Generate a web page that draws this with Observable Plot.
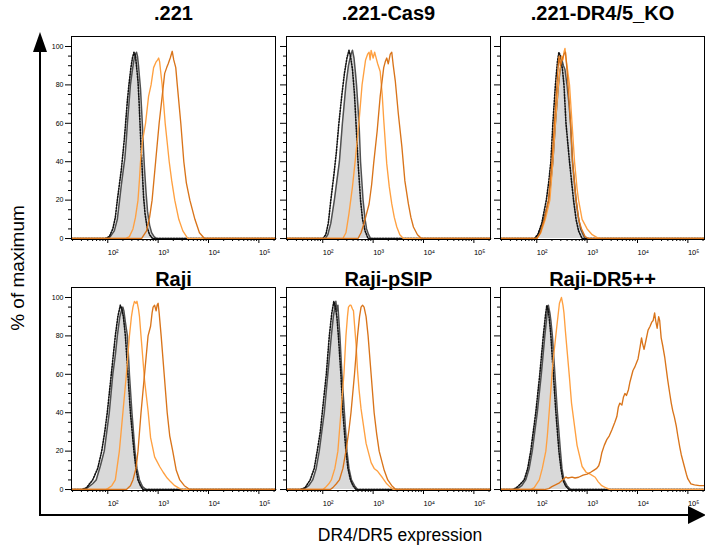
<!DOCTYPE html>
<html><head><meta charset="utf-8">
<script src="https://cdn.jsdelivr.net/npm/d3@7"></script>
<script src="https://cdn.jsdelivr.net/npm/@observablehq/plot@0.6"></script>
<style>
body{margin:0;background:#fff;}
#chart{position:relative;width:705px;height:545px;overflow:hidden;font-family:"Liberation Sans",Arial,sans-serif;}
#chart svg{position:absolute;}
</style></head><body><div id="chart"></div>
<script>
// ---- data: [log10(intensity), % of maximum] ----
const panelTitles = [".221", ".221-Cas9", ".221-DR4/5_KO", "Raji", "Raji-pSIP", "Raji-DR5++"];
const majorX = [1e2, 1e3, 1e4, 1e5];
const xTickLabels = ["10²", "10³", "10⁴", "10⁵"];
const majorY = [0, 20, 40, 60, 80, 100];
const minorY = [5, 10, 15, 25, 30, 35, 45, 50, 55, 65, 70, 75, 85, 90, 95];

const gray_221 = [[1.28,0],[2.0,0],[2.05,1],[2.13,4],[2.19,10],[2.235,20],[2.27,28],[2.31,36],[2.34,42],[2.37,52],[2.39,60],[2.42,70],[2.45,80],[2.49,88],[2.52,93],[2.55,96],[2.57,97],[2.59,95],[2.61,90],[2.63,84],[2.65,78],[2.67,68],[2.69,58],[2.71,46],[2.73,36],[2.76,24],[2.79,14],[2.83,7],[2.87,3],[2.92,1],[2.97,0],[5.33,0]];
const dotted_221 = [[1.28,0],[1.95,0],[2.03,1],[2.10,5],[2.15,11],[2.19,20],[2.23,28],[2.27,36],[2.30,44],[2.33,52],[2.36,62],[2.39,72],[2.42,80],[2.46,89],[2.49,94],[2.52,97],[2.55,95],[2.57,90],[2.60,82],[2.62,72],[2.64,60],[2.66,48],[2.68,38],[2.71,22],[2.74,13],[2.78,6],[2.83,2],[2.89,0],[5.33,0]];
const light_221 = [[1.28,0],[2.35,0],[2.43,1],[2.50,5],[2.55,11],[2.60,20],[2.63,31],[2.65,40],[2.69,51],[2.75,60],[2.81,74],[2.86,80],[2.91,89],[2.96,92],[2.99,93],[3.01,94],[3.03,92],[3.05,87],[3.08,80],[3.11,70],[3.14,60],[3.18,50],[3.22,40],[3.27,30],[3.33,20],[3.41,10],[3.49,4],[3.59,0],[5.33,0]];
const dark_221 = [[1.28,0],[2.67,0],[2.77,4],[2.83,11],[2.88,20],[2.95,40],[3.02,60],[3.08,74],[3.13,86],[3.17,89],[3.20,91],[3.24,94],[3.28,97.5],[3.31,93],[3.35,89],[3.38,80],[3.45,60],[3.51,40],[3.56,29],[3.63,20],[3.73,10],[3.82,3],[3.92,0],[5.33,0]];

const gray_cas9 = [[1.28,0],[2.05,0],[2.10,2],[2.16,8],[2.23,20],[2.28,30],[2.33,40],[2.39,60],[2.46,80],[2.51,90],[2.55,95],[2.59,98],[2.62,94],[2.65,86],[2.67,80],[2.72,60],[2.75,40],[2.80,20],[2.84,10],[2.87,5],[2.91,2],[2.95,0],[5.33,0]];
const dotted_cas9 = [[1.28,0],[2.0,0],[2.06,2],[2.11,8],[2.16,20],[2.22,33],[2.27,45],[2.32,60],[2.38,75],[2.43,86],[2.48,94],[2.52,98],[2.55,95],[2.59,88],[2.63,75],[2.66,60],[2.70,40],[2.75,20],[2.79,10],[2.84,4],[2.90,0],[5.33,0]];
const light_cas9 = [[1.28,0],[2.40,0],[2.46,3],[2.52,13],[2.59,27],[2.65,42],[2.72,61],[2.78,80],[2.85,93],[2.89,96],[2.92,97],[2.94,93],[2.96,98],[3.00,94],[3.03,97],[3.05,95],[3.09,91],[3.14,87],[3.18,75],[3.21,62],[3.27,39],[3.32,27],[3.37,18],[3.42,11],[3.47,6],[3.53,2],[3.60,0],[5.33,0]];
const dark_cas9 = [[1.28,0],[2.70,0],[2.76,3],[2.82,8],[2.92,18],[2.97,28],[3.01,39],[3.08,56],[3.14,74],[3.21,89],[3.24,92],[3.27,94],[3.30,91],[3.34,96],[3.37,97],[3.40,90],[3.44,82],[3.50,65],[3.57,48],[3.63,30],[3.70,18],[3.75,11],[3.80,6],[3.88,2],[3.96,0],[5.33,0]];

const gray_ko = [[1.28,0],[1.98,0],[2.01,1],[2.08,5],[2.15,11],[2.24,20],[2.28,30],[2.32,40],[2.37,60],[2.43,80],[2.46,87],[2.50,93],[2.53,90],[2.56,88],[2.60,80],[2.64,70],[2.67,60],[2.71,40],[2.78,20],[2.82,12],[2.87,5],[2.92,2],[2.96,0],[5.33,0]];
const dotted_ko = [[1.28,0],[1.95,0],[2.02,2],[2.10,8],[2.19,20],[2.24,30],[2.28,40],[2.32,60],[2.37,80],[2.41,92],[2.44,97],[2.47,95],[2.51,88],[2.54,80],[2.58,60],[2.65,40],[2.73,20],[2.78,10],[2.83,4],[2.90,0],[5.33,0]];
const light_ko = [[1.28,0],[2.0,0],[2.08,3],[2.17,10],[2.26,20],[2.32,40],[2.37,60],[2.43,80],[2.47,90],[2.49,95],[2.52,93],[2.54,97],[2.56,99],[2.58,94],[2.60,90],[2.65,80],[2.70,60],[2.75,40],[2.80,26],[2.83,20],[2.90,10],[3.00,5],[3.10,2],[3.20,0.5],[3.29,0],[5.33,0]];
const dark_ko = [[1.28,0],[2.0,0],[2.07,3],[2.15,10],[2.23,20],[2.30,40],[2.35,60],[2.40,80],[2.44,95],[2.47,90],[2.50,93],[2.54,96],[2.57,97],[2.60,88],[2.62,80],[2.67,60],[2.71,40],[2.78,20],[2.84,9],[2.89,5],[2.96,1],[3.03,0],[5.33,0]];

const gray_raji = [[1.28,0],[1.55,0],[1.60,1],[1.70,3],[1.77,5],[1.85,12],[1.93,20],[1.98,30],[2.03,40],[2.10,60],[2.15,70],[2.19,80],[2.24,90],[2.28,94],[2.30,95],[2.32,93],[2.35,87],[2.39,80],[2.43,60],[2.48,40],[2.54,20],[2.58,11],[2.63,5],[2.69,1.5],[2.76,0],[5.33,0]];
const dotted_raji = [[1.28,0],[1.48,0],[1.58,1],[1.70,5],[1.80,11],[1.88,20],[1.94,30],[1.99,40],[2.07,60],[2.15,80],[2.20,90],[2.25,96],[2.28,94],[2.31,90],[2.35,80],[2.40,60],[2.45,40],[2.52,20],[2.56,11],[2.60,5],[2.65,2],[2.70,0],[5.33,0]];
const light_raji = [[1.28,0],[1.95,0],[2.0,0.5],[2.08,2],[2.15,5],[2.23,20],[2.30,40],[2.37,60],[2.43,80],[2.47,90],[2.50,95],[2.53,98],[2.56,97],[2.58,98],[2.61,94],[2.63,90],[2.66,80],[2.70,67],[2.73,57],[2.80,41],[2.85,27],[2.93,17],[3.03,12],[3.10,9],[3.18,6],[3.25,4],[3.33,2],[3.43,0.5],[3.50,0],[5.33,0]];
const dark_raji = [[1.28,0],[2.37,0],[2.45,2],[2.50,5],[2.56,11],[2.60,20],[2.66,40],[2.73,60],[2.80,80],[2.85,85],[2.88,92],[2.90,95],[2.93,96],[2.96,93],[2.98,96],[3.0,97],[3.02,92],[3.06,80],[3.12,60],[3.18,40],[3.23,28],[3.29,20],[3.36,10],[3.43,5],[3.52,2],[3.63,0],[5.33,0]];

const gray_psip = [[1.28,0],[1.60,0],[1.64,0.5],[1.72,2],[1.80,5],[1.87,11],[1.93,20],[1.98,30],[2.03,40],[2.10,60],[2.17,80],[2.21,90],[2.24,95],[2.26,98],[2.28,93],[2.30,96],[2.32,88],[2.34,80],[2.38,60],[2.43,40],[2.48,20],[2.52,11],[2.57,5],[2.63,2],[2.69,0],[5.33,0]];
const dotted_psip = [[1.28,0],[1.55,0],[1.65,1],[1.75,5],[1.83,11],[1.89,20],[1.95,30],[1.99,40],[2.07,60],[2.13,80],[2.18,92],[2.22,98],[2.25,95],[2.28,90],[2.31,80],[2.36,60],[2.40,40],[2.46,20],[2.50,11],[2.55,5],[2.60,2],[2.66,0],[5.33,0]];
const light_psip = [[1.28,0],[2.0,0],[2.05,1],[2.12,3],[2.17,5],[2.24,11],[2.30,20],[2.36,40],[2.42,60],[2.46,80],[2.49,90],[2.51,95],[2.54,96],[2.56,96],[2.59,94],[2.61,93],[2.63,86],[2.66,76],[2.69,62],[2.72,52],[2.76,42],[2.81,33],[2.86,24],[2.96,14],[3.02,11],[3.09,9.5],[3.19,6],[3.27,3],[3.35,1],[3.40,0],[5.33,0]];
const dark_psip = [[1.28,0],[2.15,0],[2.20,1],[2.27,3],[2.33,5],[2.40,11],[2.46,20],[2.52,31],[2.56,40],[2.63,60],[2.69,80],[2.73,90],[2.76,95],[2.79,96],[2.82,95],[2.86,90],[2.90,80],[2.96,60],[3.02,40],[3.07,29],[3.12,20],[3.22,10],[3.29,5],[3.37,2],[3.45,0],[5.33,0]];

const gray_dr5 = [[1.28,0],[1.55,0],[1.62,0.5],[1.70,2],[1.78,5],[1.85,11],[1.91,20],[1.96,30],[2.01,40],[2.09,60],[2.16,80],[2.20,90],[2.23,96],[2.26,92],[2.28,88],[2.31,80],[2.36,60],[2.41,40],[2.47,20],[2.50,11],[2.54,5],[2.60,2],[2.67,0],[5.33,0]];
const dotted_dr5 = [[1.28,0],[1.52,0],[1.60,1],[1.68,3],[1.75,5],[1.82,11],[1.88,20],[1.93,30],[1.98,40],[2.06,60],[2.13,80],[2.17,90],[2.20,96],[2.23,93],[2.26,86],[2.28,80],[2.33,60],[2.38,40],[2.44,20],[2.48,11],[2.52,5],[2.57,2],[2.64,0],[5.33,0]];
const light_dr5 = [[1.28,0],[1.88,0],[1.95,1],[2.05,5],[2.11,11],[2.18,20],[2.21,28],[2.26,45],[2.32,66],[2.39,83],[2.45,97],[2.49,100],[2.52,96],[2.54,92],[2.57,82],[2.60,73],[2.65,58],[2.69,45],[2.75,33],[2.80,23],[2.90,12],[2.98,9],[3.06,8],[3.16,6.4],[3.22,4],[3.29,2],[3.38,0.8],[3.46,0],[5.33,0]];
const dark_dr5 = [[1.28,0],[2.15,0],[2.24,0.5],[2.30,1.5],[2.37,2.4],[2.45,3.5],[2.50,4.7],[2.58,6.5],[2.62,6],[2.70,6.5],[2.76,6],[2.83,6.4],[2.92,7.5],[3.0,8],[3.07,9],[3.13,10],[3.19,11],[3.23,12.4],[3.26,15],[3.29,19],[3.34,23],[3.39,26],[3.44,28],[3.49,31],[3.55,35],[3.59,38],[3.62,43],[3.65,45],[3.69,44],[3.72,48],[3.75,50],[3.78,49],[3.82,52],[3.85,56],[3.88,59],[3.91,62],[3.95,64],[3.98,66],[4.01,68],[4.05,74],[4.08,79],[4.10,76],[4.13,73],[4.17,78],[4.21,83],[4.25,85],[4.28,87],[4.31,88],[4.34,92],[4.36,88],[4.39,84],[4.42,90],[4.44,88],[4.47,79],[4.50,75],[4.54,69],[4.57,63],[4.60,57],[4.64,50],[4.67,45],[4.70,41],[4.73,38],[4.77,33],[4.80,28],[4.84,22],[4.87,18],[4.90,15],[4.93,12],[4.97,8],[5.0,5.5],[5.06,3],[5.13,2.4],[5.23,2],[5.33,2]];

const series = [
  {gray: gray_221, dotted: dotted_221, light: light_221, dark: dark_221},
  {gray: gray_cas9, dotted: dotted_cas9, light: light_cas9, dark: dark_cas9},
  {gray: gray_ko, dotted: dotted_ko, light: light_ko, dark: dark_ko},
  {gray: gray_raji, dotted: dotted_raji, light: light_raji, dark: dark_raji},
  {gray: gray_psip, dotted: dotted_psip, light: light_psip, dark: dark_psip},
  {gray: gray_dr5, dotted: dotted_dr5, light: light_dr5, dark: dark_dr5}
];

// ---- layout ----
const W = 204, H = 203;
const colLeft = [71, 286, 500];
const rowTop = [36, 287];
const titleDy = [-23, -8];
const mL = 40, mR = 2, mT = 32, mB = 24;
const xDomain = [10 ** 1.28, 10 ** 5.33];
const yDomain = [-0.5, 105.2];
const minorX = d3.scaleLog().domain(xDomain).ticks().filter(t => !majorX.includes(t));
const FONT = '"Liberation Sans", Arial, sans-serif';
const LIGHT = "#ffa040", DARK = "#d9741a";

const chart = document.getElementById("chart");

// big axes overlay
const ns = "http://www.w3.org/2000/svg";
const ov = document.createElementNS(ns, "svg");
ov.setAttribute("width", 705); ov.setAttribute("height", 545);
ov.style.left = "0px"; ov.style.top = "0px";
ov.innerHTML = `
<line x1="40" y1="515" x2="40" y2="48" stroke="#000" stroke-width="2"/>
<polygon points="33,52 47,52 40,32" fill="#000"/>
<line x1="39" y1="515" x2="692" y2="515" stroke="#000" stroke-width="2"/>
<polygon points="688,506 688,524 706,515" fill="#000"/>
<text x="19" y="268" transform="rotate(-90 19 268)" text-anchor="middle" dominant-baseline="middle" font-size="19" font-family='${FONT}' fill="#000">% of maximum</text>
<text x="400" y="536" text-anchor="middle" dominant-baseline="middle" font-size="17.5" font-family='${FONT}' fill="#000">DR4/DR5 expression</text>`;
chart.appendChild(ov);

const X = d => 10 ** d[0], Y = d => d[1];
panelTitles.forEach((title, i) => {
  const col = i % 3, row = Math.floor(i / 3);
  const s = series[i];
  const p = Plot.plot({
    width: W + mL + mR, height: H + mT + mB,
    marginLeft: mL, marginRight: mR, marginTop: mT, marginBottom: mB,
    style: {background: "transparent", overflow: "visible", fontFamily: FONT, color: "#000"},
    x: {type: "log", domain: xDomain, axis: null},
    y: {domain: yDomain, axis: null},
    marks: [
      Plot.areaY(s.gray, {x: X, y1: 0, y2: Y, fill: "#d9d9d9"}),
      Plot.lineY(s.gray, {x: X, y: Y, stroke: "#505050", strokeWidth: 1.5}),
      Plot.lineY(s.dotted, {x: X, y: Y, stroke: "#111", strokeWidth: 1.6, strokeDasharray: "1.3,1.5"}),
      Plot.lineY(s.light, {x: X, y: Y, stroke: LIGHT, strokeWidth: 1.35}),
      Plot.lineY(s.dark, {x: X, y: Y, stroke: DARK, strokeWidth: 1.35}),
      Plot.frame({stroke: "#000", strokeWidth: 1}),
      Plot.axisX({ticks: minorX, tickSize: 2, fill: "none", label: null}),
      Plot.axisX({ticks: majorX, tickSize: 4, tickPadding: 6, tickFormat: d => xTickLabels[majorX.indexOf(d)], textAnchor: "start", fontSize: 7.5, label: null}),
      Plot.axisY({ticks: minorY, tickSize: 3, fill: "none", label: null}),
      Plot.axisY({ticks: majorY, tickSize: 6, tickPadding: 2, fontSize: 7, label: null, fill: col === 0 ? "#000" : "none"}),
      Plot.text([title], {frameAnchor: "top", dy: titleDy[row], text: d => d, fontSize: 20, fontWeight: "bold", lineAnchor: "middle", fill: "#000"})
    ]
  });
  p.style.left = (colLeft[col] - mL) + "px";
  p.style.top = (rowTop[row] - mT) + "px";
  p.style.position = "absolute";
  chart.appendChild(p);
});
</script></body></html>
